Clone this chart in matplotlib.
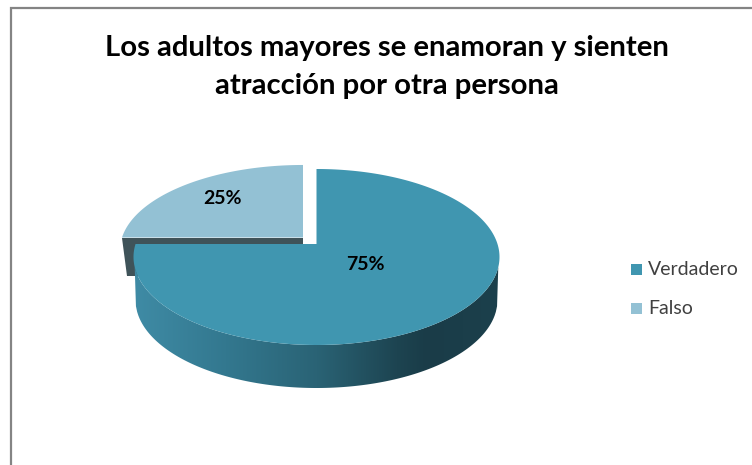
import numpy as np
import matplotlib
matplotlib.use("Agg")
import matplotlib.pyplot as plt
from matplotlib.colors import LinearSegmentedColormap
from matplotlib.patches import Polygon, Rectangle

categories = ["Verdadero", "Falso"]
values = [75, 25]
labels = ["75%", "25%"]
title = "Los adultos mayores se enamoran y sienten\natracción por otra persona"
colors = ["#4096B0", "#93C1D4"]

plt.rcParams["font.family"] = ["Lato", "DejaVu Sans"]
fig = plt.figure(figsize=(7.52, 4.65), dpi=100, facecolor="white")
ax = fig.add_axes([0, 0, 1, 1])
ax.set_xlim(0, 752)
ax.set_ylim(465, 0)
ax.axis("off")

# chart frame (only top and left edges are inside the picture)
ax.plot([11, 11, 752], [465, 8, 8], color="#848484", lw=1.6, solid_joinstyle="miter")

# pie geometry, in pixels
CX, CY, RX, RY = 316.5, 257, 183, 88   # top ellipse of the main slice
AX, AY = 316.5, 244                    # apex of the slices (perspective)
THICK = 43
EXPL = (-13.5, -6.5)                   # offset of the exploded slice
EXPL_SQUASH = 0.967                    # exploded slice is seen a little flatter


def slice_outline(start, end, dx=0.0, dy=0.0, squash=1.0):
    """Top face of a slice; angles in degrees clockwise from twelve o'clock."""
    pts = [(AX + dx, AY + dy)]
    for a in np.radians(np.linspace(start, end, 200)):
        ux, uy = np.sin(a), -np.cos(a) * RY / RX
        ox, oy = (AX - CX) / RX, (AY - CY) / RY
        vx, vy = ux / RX, uy / RY
        A = vx ** 2 + vy ** 2
        B = 2 * (ox * vx + oy * vy)
        C = ox ** 2 + oy ** 2 - 1
        t = (-B + np.sqrt(B ** 2 - 4 * A * C)) / (2 * A)
        pts.append((AX + dx + t * ux, AY + dy + squash * t * uy))
    return np.array(pts)


total = sum(values)
main_end = 360 * values[0] / total
main_top = slice_outline(0, main_end)
falso_top = slice_outline(main_end, 360, *EXPL, squash=EXPL_SQUASH)

# exploded slice: cut face first, then its top
corner = falso_top[1]
apex = falso_top[0]
ax.add_patch(Polygon([corner, apex, (apex[0], apex[1] + 38),
                      (corner[0] + 4.5, apex[1] + 38)],
                     fc="#3F5359", ec="none", zorder=2))
ax.add_patch(Polygon(falso_top, fc=colors[1], ec="none", zorder=3))

# side wall of the main slice with horizontal shading
xs = np.linspace(CX - RX, CX + RX, 300)
yt = CY + RY * np.sqrt(np.clip(1 - ((xs - CX) / RX) ** 2, 0, 1))
bot_rx = RX - 2
yb = CY + THICK + RY * np.sqrt(np.clip(1 - ((xs - CX) / bot_rx) ** 2, 0, 1))
yb = np.where(np.abs(xs - CX) > bot_rx, yt, yb)
wall = Polygon(np.r_[np.c_[xs, yt], np.c_[xs[::-1], yb[::-1]]], closed=True,
               fc="none", ec="none", transform=ax.transData)
ax.add_patch(wall)
cmap = LinearSegmentedColormap.from_list(
    "wall", [(0, "#3F8BA5"), (0.25, "#33788F"), (0.5, "#2A6375"),
             (0.72, "#1D4451"), (0.8, "#1A3C48"), (1, "#1C404C")])
im = ax.imshow(np.linspace(0, 1, 256)[None, :], cmap=cmap, aspect="auto",
               extent=(CX - RX, CX + RX, CY + THICK + RY + 2, CY - 2), zorder=4)
im.set_clip_path(wall)
ax.set_xlim(0, 752)
ax.set_ylim(465, 0)

ax.add_patch(Polygon(main_top, fc=colors[0], ec="none", zorder=5))

# data labels
ax.text(365, 264, labels[0], ha="center", va="center", fontsize=14,
        fontweight="bold", color="black", zorder=6)
ax.text(222.5, 198, labels[1], ha="center", va="center", fontsize=14,
        fontweight="bold", color="black", zorder=6)

# legend
for name, col, y in zip(categories, colors, [269, 308]):
    ax.add_patch(Rectangle((631, y - 5.5), 11, 11, fc=col, ec="none", zorder=6))
    ax.text(648, y, name, ha="left", va="center", fontsize=14, color="#404040", zorder=6)

# title
ax.text(386.5, 67, title, ha="center", va="center", fontsize=21.1, fontweight="bold",
        color="black", linespacing=1.6, zorder=6)

fig.savefig("out.png", dpi=100, facecolor="white")
